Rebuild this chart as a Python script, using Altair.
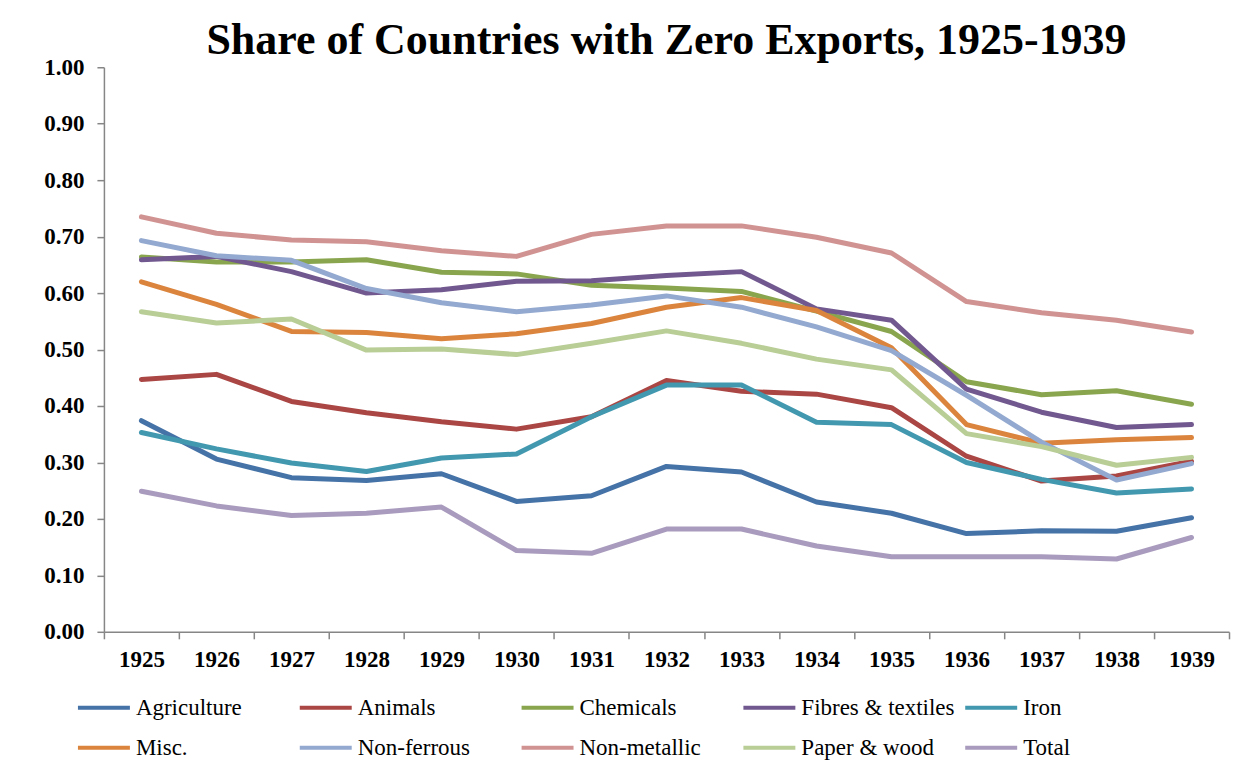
import altair as alt
import pandas as pd

years = [1925, 1926, 1927, 1928, 1929, 1930, 1931, 1932, 1933, 1934, 1935, 1936, 1937, 1938, 1939]

agriculture = [0.374, 0.306, 0.273, 0.268, 0.280, 0.231, 0.241, 0.293, 0.283, 0.230, 0.210, 0.174, 0.179, 0.178, 0.202]
animals = [0.447, 0.456, 0.408, 0.388, 0.372, 0.359, 0.381, 0.445, 0.426, 0.421, 0.397, 0.311, 0.267, 0.276, 0.302]
chemicals = [0.664, 0.655, 0.655, 0.659, 0.637, 0.634, 0.614, 0.609, 0.603, 0.568, 0.532, 0.443, 0.420, 0.427, 0.403]
fibres = [0.659, 0.665, 0.638, 0.600, 0.606, 0.621, 0.622, 0.631, 0.638, 0.572, 0.552, 0.430, 0.389, 0.362, 0.367]
iron = [0.353, 0.324, 0.299, 0.284, 0.308, 0.315, 0.381, 0.437, 0.437, 0.371, 0.367, 0.300, 0.270, 0.246, 0.253]
misc = [0.620, 0.580, 0.532, 0.530, 0.519, 0.528, 0.546, 0.575, 0.592, 0.569, 0.503, 0.367, 0.334, 0.340, 0.344]
nonferrous = [0.693, 0.666, 0.658, 0.608, 0.583, 0.567, 0.579, 0.595, 0.575, 0.540, 0.498, 0.419, 0.336, 0.269, 0.298]
nonmetallic = [0.735, 0.706, 0.694, 0.691, 0.675, 0.665, 0.704, 0.719, 0.719, 0.699, 0.671, 0.585, 0.565, 0.552, 0.531]
paper = [0.567, 0.547, 0.554, 0.499, 0.501, 0.491, 0.511, 0.533, 0.511, 0.483, 0.464, 0.351, 0.328, 0.295, 0.309]
total = [0.249, 0.223, 0.206, 0.210, 0.221, 0.144, 0.139, 0.182, 0.182, 0.152, 0.133, 0.133, 0.133, 0.129, 0.167]

series_names = ["Agriculture", "Animals", "Chemicals", "Fibres & textiles", "Iron",
                "Misc.", "Non-ferrous", "Non-metallic", "Paper & wood", "Total"]
series_values = [agriculture, animals, chemicals, fibres, iron,
                 misc, nonferrous, nonmetallic, paper, total]
colors = ["#4572A7", "#AA4643", "#89A54E", "#71588F", "#4198AF",
          "#DB843D", "#93A9CF", "#D19392", "#B9CD96", "#A99BBD"]

rows = []
for name, vals in zip(series_names, series_values):
    for y, v in zip(years, vals):
        rows.append({"Year": str(y), "Series": name, "Share": v})
df = pd.DataFrame(rows)

axis_color = "#868686"
serif = "Liberation Serif"

chart = alt.Chart(df).mark_line(strokeWidth=5, strokeCap="round", strokeJoin="round").encode(
    x=alt.X("Year:O",
            scale=alt.Scale(type="band", paddingInner=0, paddingOuter=0),
            bandPosition=0.5,
            axis=alt.Axis(title=None, labelAngle=0, tickBand="extent", labelPadding=10)),
    y=alt.Y("Share:Q",
            scale=alt.Scale(domain=[0, 1], nice=False),
            axis=alt.Axis(title=None, format=".2f", values=[i / 10 for i in range(11)],
                          grid=False, labelPadding=13)),
    color=alt.Color("Series:N",
                    scale=alt.Scale(domain=series_names, range=colors),
                    legend=alt.Legend(title=None, orient="none", legendX=-28, legendY=613,
                                      direction="horizontal", columns=5,
                                      symbolType="stroke", symbolSize=2704,
                                      symbolStrokeWidth=4,
                                      labelLimit=400, labelOffset=4,
                                      columnPadding=2, rowPadding=-12,
                                      gridAlign="all")),
).properties(
    width=1126,
    height=565,
    title=alt.TitleParams("Share of Countries with Zero Exports, 1925-1939",
                          font=serif, fontSize=44, fontWeight="bold",
                          color="#000000", anchor="middle", offset=10, dy=17),
    autosize=alt.AutoSizeParams(type="none"),
    padding={"left": 96, "top": 59, "right": 10, "bottom": 140},
).configure(
    background="white", font=serif
).configure_view(
    stroke=None
).configure_axis(
    labelFont=serif, labelFontWeight="bold", labelFontSize=23, labelColor="#000000",
    domainColor=axis_color, domainWidth=1.5,
    tickColor=axis_color, tickWidth=1.5, tickSize=7
).configure_legend(
    labelFont=serif, labelFontSize=23, labelColor="#000000"
)

chart.save("out.html", embed_options={"renderer": "svg", "actions": False})
